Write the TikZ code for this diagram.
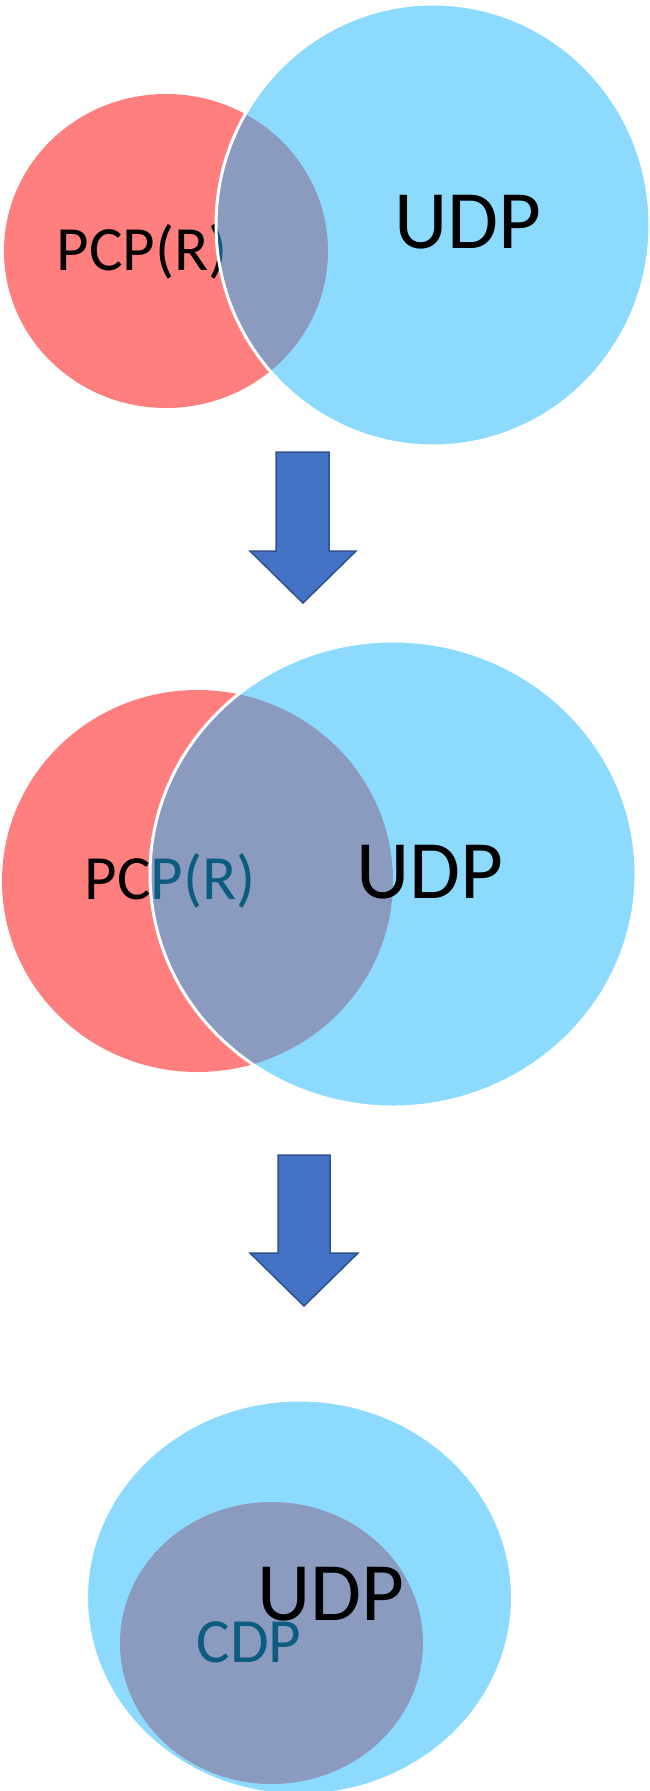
\documentclass[tikz,border=0pt]{standalone}
\usepackage{fontspec}
\setmainfont{Carlito}
\usepackage{xcolor}
\usepackage{tikz}
\usetikzlibrary{shapes.geometric}

\definecolor{setred}{HTML}{FF0000}
\definecolor{setblue}{HTML}{19B7FF}
\definecolor{arrfill}{HTML}{4472C4}
\definecolor{arrline}{HTML}{2F528F}

\begin{document}
\begin{tikzpicture}[x=1pt,y=-1pt,
  pcp/.style={ellipse,fill=setred,fill opacity=0.5,inner sep=0pt},
  udp/.style={ellipse,fill=setblue,fill opacity=0.5,draw=white,line width=3pt,inner sep=0pt},
  big/.style={inner sep=0pt,font=\fontsize{83}{99}\selectfont,anchor=base},
  small/.style={inner sep=0pt,font=\fontsize{63}{76}\selectfont,anchor=base},
  darr/.style={fill=arrfill,draw=arrline,line width=1.5pt,line join=miter}]
\useasboundingbox (0,0) rectangle (650,1791);

% first stage
\node[pcp,minimum width=324pt,minimum height=314pt] (pcpA) at (166,251) {};
\node[small] (pcpAtxt) at (142,270) {PCP(R)};
\node[udp,minimum width=434pt,minimum height=442pt] (udpA) at (433,225) {};
\node[big] (udpAtxt) at (468,248) {UDP};

\draw[darr] (276,452) -- (329,452) -- (329,551) -- (356,551) -- (303,603)
  -- (250,551) -- (276,551) -- cycle;

% second stage
\node[pcp,minimum width=391pt,minimum height=382pt] (pcpB) at (197.5,881) {};
\node[small] (pcpBtxt) at (170,899) {PCP(R)};
\node[udp,minimum width=486pt,minimum height=466pt] (udpB) at (393,874) {};
\node[big] (udpBtxt) at (430,898) {UDP};

\draw[darr] (278,1155) -- (330,1155) -- (330,1253) -- (358,1253) -- (304,1306)
  -- (250,1253) -- (278,1253) -- cycle;

% third stage
\node[pcp,minimum width=303pt,minimum height=282pt] (cdp) at (271.5,1643) {};
\node[small] (cdptxt) at (249,1662) {CDP};
\node[udp,minimum width=426pt,minimum height=395pt] (udpC) at (299.5,1597.5) {};
\node[big] (udpCtxt) at (331,1620) {UDP};
\end{tikzpicture}
\end{document}
